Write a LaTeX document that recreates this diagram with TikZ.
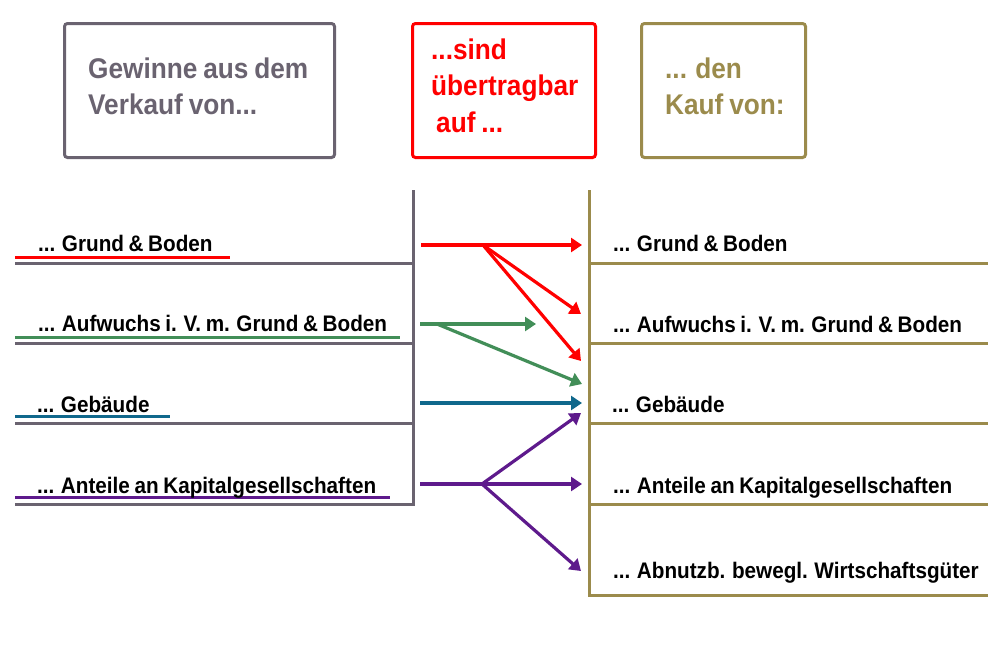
\documentclass[tikz,border=0pt]{standalone}
\usepackage{fontspec}
\setmainfont{Liberation Sans}[FakeStretch=0.92,WordSpace=0.8]
\usetikzlibrary{arrows.meta}
\definecolor{cgray}{RGB}{106,99,112}
\definecolor{cred}{RGB}{255,0,0}
\definecolor{colive}{RGB}{155,139,76}
\definecolor{cgreen}{RGB}{66,142,88}
\definecolor{cblue}{RGB}{16,104,140}
\definecolor{cpurple}{RGB}{94,26,140}
\begin{document}
\begin{tikzpicture}[x=1pt,y=-1pt,
  hbox/.style={draw,line width=3pt,rounded corners=3pt,anchor=north west,inner sep=0pt,minimum height=134pt},
  htext/.style={anchor=north west,inner sep=0pt,align=left,font=\fontsize{28.5}{36.5}\selectfont\bfseries},
  lbl/.style={anchor=base west,inner sep=0pt,font=\fontsize{22.5}{27}\selectfont\bfseries,text=black},
  sline/.style={line width=3pt},
  uline/.style={line width=3pt},
  arr/.style={line width=3.2pt,-{Triangle[length=11pt,width=14pt]}}]
\useasboundingbox (0,0) rectangle (989,649);

% header boxes
\node[hbox,draw=cgray,minimum width=270pt] (b1) at (63,22) {};
\node[hbox,draw=cred,minimum width=183pt] (b2) at (411,22) {};
\node[hbox,draw=colive,minimum width=164pt] (b3) at (640,22) {};
\node[htext,text=cgray] (t1) at (88,57.5) {Gewinne aus dem\\Verkauf von...};
\node[htext,text=cred] (t2) at (431,38.5) {...sind\\übertragbar\\\hspace*{5pt}auf ...};
\node[htext,text=colive] (t3) at (665,57.5) {... den\\Kauf von:};

% left structure
\draw[sline,cgray] (413,190) -- (413,504) -- (15,504);
\draw[sline,cgray] (15,263) -- (413,263);
\draw[sline,cgray] (15,343) -- (413,343);
\draw[sline,cgray] (15,423) -- (413,423);
\draw[uline,cred] (15,257) -- (230,257);
\draw[uline,cgreen] (15,337) -- (400,337);
\draw[uline,cblue] (15,416.5) -- (170,416.5);
\draw[uline,cpurple] (15,497) -- (390,497);
\node[lbl] (l1) at (38,251) {... Grund \& Boden};
\node[lbl] (l2) at (38,331.5) {... Aufwuchs i. V. m. Grund \& Boden};
\node[lbl] (l3) at (37,412) {... Gebäude};
\node[lbl] (l4) at (37,493) {... Anteile an Kapitalgesellschaften};

% right structure
\draw[sline,colive] (589,190) -- (589,595) -- (988,595);
\draw[sline,colive] (589,263) -- (988,263);
\draw[sline,colive] (589,343) -- (988,343);
\draw[sline,colive] (589,423) -- (988,423);
\draw[sline,colive] (589,504) -- (988,504);
\node[lbl] (r1) at (613,251) {... Grund \& Boden};
\node[lbl] (r2) at (613,332) {... Aufwuchs i. V. m. Grund \& Boden};
\node[lbl] (r3) at (612,412) {... Gebäude};
\node[lbl] (r4) at (613,493) {... Anteile an Kapitalgesellschaften};
\node[lbl] (r5) at (613,578) {... Abnutzb. bewegl. Wirtschaftsgüter};

% arrow coordinates
\coordinate (rs) at (421,245);
\coordinate (rb) at (483,245);
\coordinate (rt1) at (582,245);
\coordinate (rt2) at (581,314);
\coordinate (rt3) at (581,361);
\coordinate (gs) at (420,324);
\coordinate (gb) at (437,324);
\coordinate (gt1) at (536,324);
\coordinate (gt2) at (582,384);
\coordinate (bs) at (420,403);
\coordinate (bt) at (582,403);
\coordinate (ps) at (420,484);
\coordinate (pb) at (482,484);
\coordinate (pt1) at (582,484);
\coordinate (pt2) at (581,413);
\coordinate (pt3) at (581,571);

% arrows
\draw[arr,cred] (rs) -- (rt1);
\draw[arr,cred] (rb) -- (rt2);
\draw[arr,cred] (rb) -- (rt3);
\draw[arr,cgreen] (gs) -- (gt1);
\draw[arr,cgreen] (gb) -- (gt2);
\draw[arr,cblue] (bs) -- (bt);
\draw[arr,cpurple] (ps) -- (pt1);
\draw[arr,cpurple] (pb) -- (pt2);
\draw[arr,cpurple] (pb) -- (pt3);
\end{tikzpicture}
\end{document}
